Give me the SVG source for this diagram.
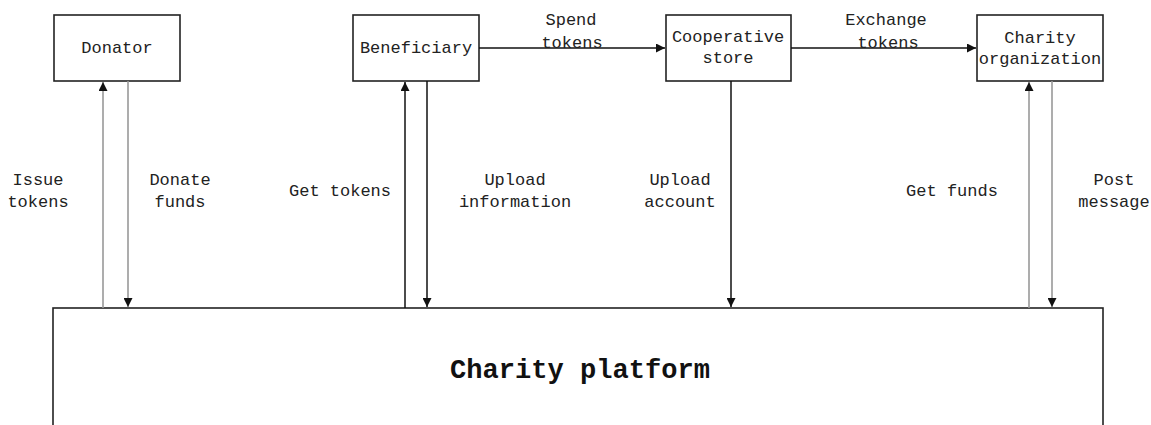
<svg xmlns="http://www.w3.org/2000/svg" width="1151" height="425" viewBox="0 0 1151 425">
<style>
.box{fill:#fff;stroke:#222;stroke-width:1.6}
.t{font-family:"Liberation Mono","DejaVu Sans Mono",monospace;font-size:17px;fill:#222;text-anchor:middle;dominant-baseline:central}
.big{font-family:"Liberation Mono","DejaVu Sans Mono",monospace;font-size:27px;font-weight:bold;fill:#111;text-anchor:middle}
.k{stroke:#111;stroke-width:1.5;fill:none}
.g{stroke:#999;stroke-width:1.6;fill:none}
</style>
<defs>
<marker id="ah" viewBox="0 0 10 10" refX="10" refY="5" markerWidth="9" markerHeight="9" markerUnits="userSpaceOnUse" orient="auto">
<path d="M0,0 L10,5 L0,10 z" fill="#111"/>
</marker>
</defs>
<g id="platform">
<rect class="box" x="53" y="308" width="1050" height="140"/>
<text class="big" x="580" y="378" textLength="260" lengthAdjust="spacingAndGlyphs">Charity platform</text>
</g>
<g id="donator">
<rect class="box" x="54" y="15" width="126" height="66"/>
<text class="t" x="117" y="48">Donator</text>
</g>
<g id="beneficiary">
<rect class="box" x="353" y="15" width="126" height="66"/>
<text class="t" x="416" y="48">Beneficiary</text>
</g>
<g id="store">
<rect class="box" x="666" y="15" width="125" height="66"/>
<text class="t" x="728" y="37">Cooperative</text>
<text class="t" x="728" y="58">store</text>
</g>
<g id="charity">
<rect class="box" x="977" y="15" width="126" height="66"/>
<text class="t" x="1040" y="38">Charity</text>
<text class="t" x="1040" y="59">organization</text>
</g>
<g id="connectors">
<line class="g" x1="103" y1="308" x2="103" y2="82" marker-end="url(#ah)"/>
<line class="g" x1="128" y1="81" x2="128" y2="307" marker-end="url(#ah)"/>
<line class="k" x1="405" y1="308" x2="405" y2="82" marker-end="url(#ah)"/>
<line class="k" x1="427" y1="81" x2="427" y2="307" marker-end="url(#ah)"/>
<line class="k" x1="731" y1="81" x2="731" y2="307" marker-end="url(#ah)"/>
<line class="g" x1="1029" y1="308" x2="1029" y2="82" marker-end="url(#ah)"/>
<line class="g" x1="1052" y1="81" x2="1052" y2="307" marker-end="url(#ah)"/>
<line class="k" x1="479" y1="48" x2="665" y2="48" marker-end="url(#ah)"/>
<line class="k" x1="791" y1="48" x2="976" y2="48" marker-end="url(#ah)"/>
</g>
<g id="labels">
<text class="t" x="38" y="180">Issue</text>
<text class="t" x="38" y="202">tokens</text>
<text class="t" x="180" y="180">Donate</text>
<text class="t" x="180" y="202">funds</text>
<text class="t" x="340" y="191">Get tokens</text>
<text class="t" x="515" y="180">Upload</text>
<text class="t" x="515" y="202">information</text>
<text class="t" x="680" y="180">Upload</text>
<text class="t" x="680" y="202">account</text>
<text class="t" x="952" y="191">Get funds</text>
<text class="t" x="1114" y="180">Post</text>
<text class="t" x="1114" y="202">message</text>
<text class="t" x="571" y="20">Spend</text>
<text class="t" x="572" y="43">tokens</text>
<text class="t" x="886" y="20">Exchange</text>
<text class="t" x="888" y="43">tokens</text>
</g>
</svg>
